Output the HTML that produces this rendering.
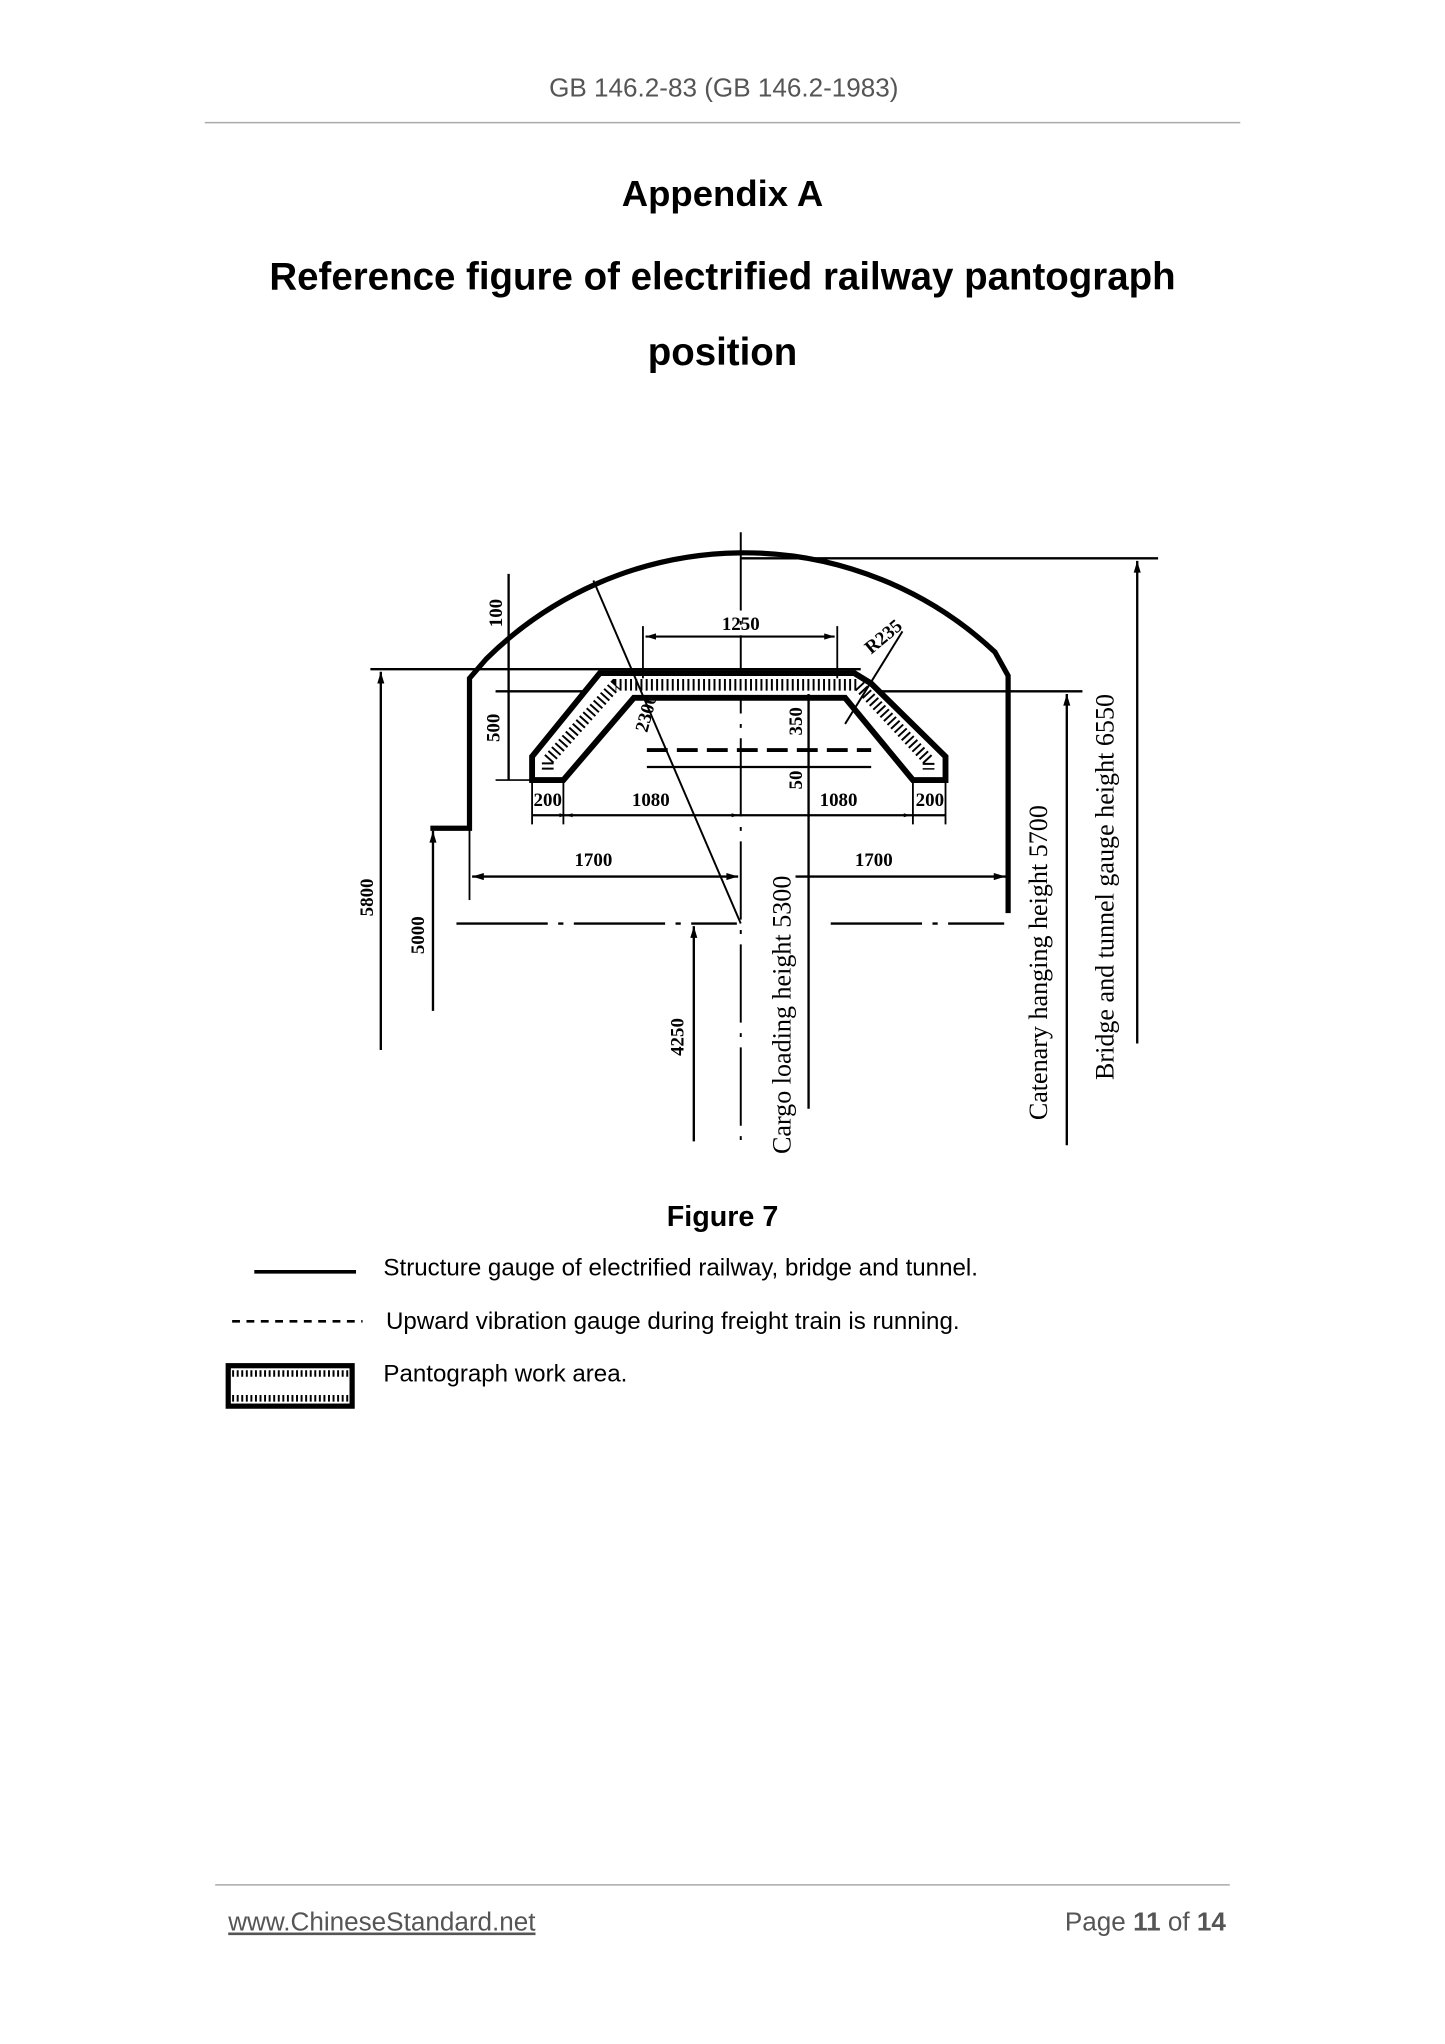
<!DOCTYPE html>
<html><head><meta charset="utf-8"><style>
html,body{margin:0;padding:0;background:#fff;width:1445px;height:2044px;overflow:hidden}
svg{display:block}
.s{font-family:"Liberation Sans",sans-serif}
.r{font-family:"Liberation Serif",serif}
</style></head><body>
<svg width="1445" height="2044" viewBox="0 0 1108 1567" preserveAspectRatio="none">
<defs>
<marker id="a" viewBox="0 0 10 10" refX="10" refY="5" markerWidth="7" markerHeight="5" orient="auto-start-reverse"><path d="M0,2 L10,5 L0,8z" fill="#000"/></marker>
</defs>
<text class="s" x="555" y="74" font-size="20" fill="#555" text-anchor="middle">GB 146.2-83 (GB 146.2-1983)</text>
<line x1="157" y1="94" x2="951" y2="94" stroke="#aaa" stroke-width="1.2"/>
<text class="s" x="554" y="158" font-size="28" font-weight="bold" text-anchor="middle">Appendix A</text>
<text class="s" x="554" y="222" font-size="29.5" font-weight="bold" text-anchor="middle">Reference figure of electrified railway pantograph</text>
<text class="s" x="554" y="280" font-size="29.5" font-weight="bold" text-anchor="middle">position</text>

<g stroke="#000" fill="none">
<line x1="568" y1="408" x2="568" y2="880" stroke-width="1.5" stroke-dasharray="60,8,3,8"/>
<path d="M330,635 L360,635 L360,520 L373,505 A281,281 0 0 1 763,500 L773,518 L773,700" stroke-width="4"/>
<line x1="568" y1="428" x2="888" y2="428" stroke-width="1.8"/>
<line x1="872" y1="800" x2="872" y2="430" stroke-width="1.8" marker-end="url(#a)"/>
<line x1="284" y1="513" x2="660" y2="513" stroke-width="1.8"/>
<line x1="292" y1="805" x2="292" y2="515" stroke-width="1.8" marker-end="url(#a)"/>
<line x1="332" y1="775" x2="332" y2="637" stroke-width="1.8" marker-end="url(#a)"/>
<line x1="380" y1="530" x2="830" y2="530" stroke-width="1.8"/>
<line x1="818" y1="878" x2="818" y2="532" stroke-width="1.8" marker-end="url(#a)"/>
<line x1="390" y1="440" x2="390" y2="598" stroke-width="1.8"/>
<line x1="380" y1="598" x2="410" y2="598" stroke-width="1.2"/>
<path d="M408,598 L408,580 L460,516 L655,516 L668,524 L725,580 L725,598 L700,598 L648,535 L486,535 L432,598 Z" stroke-width="4.5" fill="#fff"/>
<path d="M420,590 L420,583 L472,525 L658,525 L712,583 L712,590" stroke-width="9" stroke-dasharray="1.5,2.5"/>
<line x1="493" y1="480" x2="493" y2="520" stroke-width="1.4"/>
<line x1="642" y1="480" x2="642" y2="520" stroke-width="1.4"/>
<line x1="495" y1="488" x2="640" y2="488" stroke-width="1.6" marker-start="url(#a)" marker-end="url(#a)"/>
<line x1="692" y1="484" x2="648" y2="555" stroke-width="1.5"/>
<line x1="455" y1="445" x2="568" y2="708" stroke-width="1.5"/>
<line x1="496" y1="575" x2="668" y2="575" stroke-width="3" stroke-dasharray="16,7"/>
<line x1="496" y1="588" x2="668" y2="588" stroke-width="1.8"/>
<line x1="620" y1="532" x2="620" y2="850" stroke-width="1.8"/>
<line x1="408" y1="598" x2="408" y2="632" stroke-width="1.4"/>
<line x1="432" y1="598" x2="432" y2="632" stroke-width="1.4"/>
<line x1="700" y1="598" x2="700" y2="632" stroke-width="1.4"/>
<line x1="725" y1="598" x2="725" y2="632" stroke-width="1.4"/>
<line x1="408" y1="625" x2="725" y2="625" stroke-width="1.8"/>
<line x1="420" y1="625" x2="434" y2="625" stroke-width="1" marker-end="url(#a)"/>
<line x1="460" y1="625" x2="434" y2="625" stroke-width="1" marker-end="url(#a)"/>
<line x1="540" y1="625" x2="566" y2="625" stroke-width="1" marker-end="url(#a)"/>
<line x1="670" y1="625" x2="698" y2="625" stroke-width="1" marker-end="url(#a)"/>
<line x1="360" y1="635" x2="360" y2="690" stroke-width="1.4"/>
<line x1="773" y1="640" x2="773" y2="690" stroke-width="1.4"/>
<line x1="362" y1="672" x2="566" y2="672" stroke-width="1.8" marker-start="url(#a)" marker-end="url(#a)"/>
<line x1="610" y1="672" x2="771" y2="672" stroke-width="1.8" marker-end="url(#a)"/>
<line x1="350" y1="708" x2="565" y2="708" stroke-width="1.8" stroke-dasharray="70,8,4,8"/>
<line x1="637" y1="708" x2="770" y2="708" stroke-width="1.8" stroke-dasharray="70,8,4,8"/>
<line x1="532" y1="875" x2="532" y2="710" stroke-width="1.8" marker-end="url(#a)"/>
</g>
<g font-family="Liberation Serif,serif" font-weight="bold" font-size="14.5" fill="#000">
<text x="568" y="483" text-anchor="middle">1250</text>
<text transform="translate(668,502) rotate(-40)">R235</text>
<text transform="translate(385,470) rotate(-90)" text-anchor="middle">100</text>
<text transform="translate(383,558) rotate(-90)" text-anchor="middle">500</text>
<text transform="translate(500,548) rotate(-75)" text-anchor="middle">2300</text>
<text transform="translate(615,553) rotate(-90)" text-anchor="middle">350</text>
<text transform="translate(615,598) rotate(-90)" text-anchor="middle">50</text>
<text x="420" y="618" text-anchor="middle">200</text>
<text x="499" y="618" text-anchor="middle">1080</text>
<text x="643" y="618" text-anchor="middle">1080</text>
<text x="713" y="618" text-anchor="middle">200</text>
<text x="455" y="664" text-anchor="middle">1700</text>
<text x="670" y="664" text-anchor="middle">1700</text>
<text transform="translate(286,688) rotate(-90)" text-anchor="middle">5800</text>
<text transform="translate(325,717) rotate(-90)" text-anchor="middle">5000</text>
<text transform="translate(524,795) rotate(-90)" text-anchor="middle">4250</text>
</g>
<g class="r" font-size="20" fill="#000">
<text transform="translate(606,778) rotate(-90)" text-anchor="middle">Cargo loading height 5300</text>
<text transform="translate(803,738) rotate(-90)" text-anchor="middle">Catenary hanging height 5700</text>
<text transform="translate(854,680) rotate(-90)" text-anchor="middle">Bridge and tunnel gauge height 6550</text>
</g>

<text class="s" x="554" y="940" font-size="22" font-weight="bold" text-anchor="middle">Figure 7</text>
<line x1="195" y1="975" x2="273" y2="975" stroke="#000" stroke-width="2.8"/>
<text class="s" x="294" y="978" font-size="18.5">Structure gauge of electrified railway, bridge and tunnel.</text>
<line x1="178" y1="1013" x2="278" y2="1013" stroke="#000" stroke-width="2" stroke-dasharray="6,5"/>
<text class="s" x="296" y="1019" font-size="18.5">Upward vibration gauge during freight train is running.</text>
<rect x="175" y="1047" width="95" height="31" fill="#fff" stroke="#000" stroke-width="4"/>
<line x1="178" y1="1053" x2="268" y2="1053" stroke="#000" stroke-width="5" stroke-dasharray="1.5,2"/>
<line x1="178" y1="1072" x2="268" y2="1072" stroke="#000" stroke-width="5" stroke-dasharray="1.5,2"/>
<text class="s" x="294" y="1059" font-size="18.5">Pantograph work area.</text>

<line x1="165" y1="1445" x2="943" y2="1445" stroke="#aaa" stroke-width="1.2"/>
<text class="s" x="175" y="1480" font-size="20" fill="#555" text-decoration="underline">www.ChineseStandard.net</text>
<text class="s" x="940" y="1480" font-size="20" fill="#555" text-anchor="end">Page <tspan font-weight="bold">11</tspan> of <tspan font-weight="bold">14</tspan></text>
</svg>
</body></html>
